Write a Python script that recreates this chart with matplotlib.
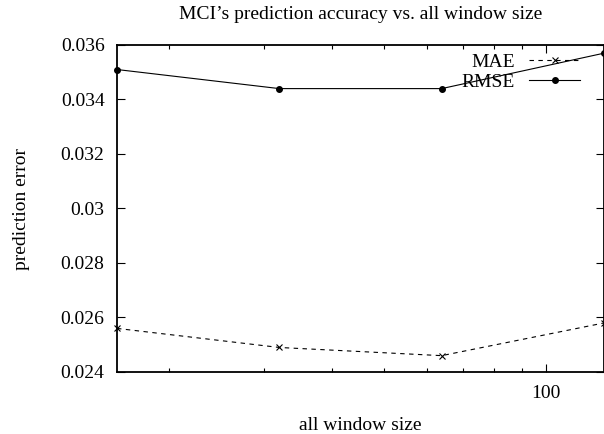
import matplotlib
matplotlib.use("Agg")
import matplotlib.pyplot as plt
from matplotlib.ticker import FixedLocator, NullFormatter, LogLocator, FixedFormatter

window_sizes = [16, 32, 64, 128]
mae = [0.0256, 0.0249, 0.0246, 0.0258]
rmse = [0.0351, 0.0344, 0.0344, 0.0357]
y_ticks = [0.024, 0.026, 0.028, 0.030, 0.032, 0.034, 0.036]
y_tick_labels = ["0.024", "0.026", "0.028", "0.03", "0.032", "0.034", "0.036"]

plt.rcParams['font.family'] = ['Liberation Serif', 'DejaVu Serif']
fs = 14

fig = plt.figure(figsize=(6.04, 4.34), dpi=100)
ax = fig.add_axes([117/604, 62/434, 487/604, 327/434])

ax.plot(window_sizes, mae, color='black', lw=0.8, linestyle=(0, (4, 4)),
        marker='x', markersize=4.5, markeredgewidth=0.8, label='MAE', clip_on=False)
ax.plot(window_sizes, rmse, color='black', lw=0.8, linestyle='-',
        marker='o', markersize=4, label='RMSE', clip_on=False)

ax.set_xscale('log')
ax.set_xlim(16, 128)
ax.set_ylim(0.024, 0.036)
ax.xaxis.set_major_locator(FixedLocator([100]))
ax.xaxis.set_major_formatter(FixedFormatter(["100"]))
ax.xaxis.set_minor_locator(LogLocator(base=10, subs=[2, 3, 4, 5, 6, 7, 8, 9]))
ax.xaxis.set_minor_formatter(NullFormatter())
ax.set_yticks(y_ticks)
ax.set_yticklabels(y_tick_labels)

ax.tick_params(axis='both', which='major', direction='in', length=6, width=0.8,
               top=True, right=True, labelsize=fs, pad=9)
ax.tick_params(axis='both', which='minor', direction='in', length=3, width=0.8,
               top=True, right=True)
for s in ax.spines.values():
    s.set_linewidth(1.3)

ax.set_title("MCI\u2019s prediction accuracy vs. all window size", fontsize=fs, pad=19)
ax.set_xlabel("all window size", fontsize=fs, labelpad=11)
ax.set_ylabel("prediction error", fontsize=fs, labelpad=22)

leg = ax.legend(loc='upper right', bbox_to_anchor=((580 - 117) / 487, 1.0 - 8/327),
                frameon=False, markerfirst=False, fontsize=fs, handlelength=2.6,
                handletextpad=0.75, labelspacing=0.15, borderpad=0, borderaxespad=0,
                numpoints=1)

fig.savefig("out.png", dpi=100)
